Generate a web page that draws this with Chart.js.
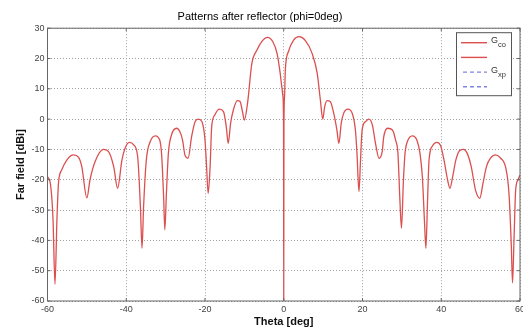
<!DOCTYPE html>
<html>
<head>
<meta charset="utf-8">
<script src="https://cdn.jsdelivr.net/npm/chart.js@4.4.0/dist/chart.umd.min.js"></script>
<style>
  html, body { margin: 0; padding: 0; background: #fff; }
  #wrap { width: 523px; height: 331px; }
</style>
</head>
<body>
<div id="wrap"><canvas id="pattern" width="523" height="331"></canvas></div>
<script>
// theta [deg] / co-polar gain [dBi]
const theta = [
  -60, -59.3, -58.6, -58.1, -57.6, -57.2, -56.4, -55.1, -53.4, -52.1, -51.3, -50.0,
  -49.2, -47.9, -45.8, -44.5, -43.2, -42.2, -41.1, -40.3, -39.2, -38.1, -37.1, -36.4,
  -36.0, -35.6, -34.9, -33.9, -32.6, -31.5, -31.0, -30.5, -30.2, -29.8, -29.3, -28.5,
  -27.2, -26.4, -25.7, -25.1, -24.3, -23.4, -22.5, -21.7, -20.8, -20.0, -19.6, -19.2,
  -18.7, -18.3, -17.5, -16.4, -15.3, -14.6, -14.1, -13.5, -12.8, -11.8, -11.1, -10.4,
  -10.0, -9.2, -8.1, -6.8, -5.6, -4.1, -2.8, -1.7, -0.9, -0.5, -0.2, -0.05,
  0, 0.05, 0.2, 0.4, 1.2, 2.5, 3.9, 5.5, 7.2, 8.5, 9.3, 9.9,
  10.4, 11.0, 11.8, 12.7, 13.5, 14.0, 14.6, 15.2, 16.3, 17.4, 18.2, 18.6,
  19.1, 19.5, 19.9, 20.8, 21.6, 22.5, 23.3, 24.2, 25.0, 25.4, 26.4, 27.6,
  28.4, 29.0, 29.5, 29.9, 30.4, 30.8, 31.4, 32.7, 33.8, 34.6, 35.2, 35.8,
  36.1, 36.5, 36.9, 37.8, 38.9, 39.9, 40.7, 41.6, 42.2, 42.9, 43.7, 44.8,
  45.7, 46.6, 47.6, 48.7, 49.8, 50.6, 51.5, 52.5, 53.8, 55.1, 56.4, 57.2,
  57.8, 58.1, 58.5, 58.9, 59.5, 60
];
const gainCo = [
  -19, -21, -33, -54.5, -33, -21, -16.8, -13.5, -11.8, -12.6, -15.6, -26,
  -20, -14, -10, -10.7, -15.6, -22.8, -13.5, -9.6, -7.7, -8.5, -12.4, -29,
  -42.6, -29, -13.5, -7.4, -5.5, -6.9, -12, -26, -36.5, -24.5, -11.3, -5.2,
  -3, -4.1, -6.9, -11.8, -12.9, -5.8, -0.8, 0, -0.8, -6.9, -15.6, -24.5,
  -15.6, -2.5, 1.4, 3.3, 2.5, -2.5, -8, -1.4, 3, 6.1, 5.8, 1.9,
  -0.3, 5.2, 18.4, 22.8, 25.6, 27, 25.6, 21.7, 15.1, 10.7, 7.4, -2.5,
  -60, -2.5, 7.4, 16.2, 22.3, 26.1, 27.2, 25.9, 21.7, 15.1, 6.3, 0,
  4.1, 6.1, 5.8, 1.9, -3.6, -8, -1.4, 1.9, 3.3, 1.9, -3.6, -11.3,
  -23.9, -13.5, -3.6, -0.8, 0, -1.9, -8, -12.9, -10.7, -5.8, -3, -3.6,
  -6.9, -11.3, -26.7, -36, -20, -11.3, -7.4, -5.5, -6.9, -11.3, -19, -35.5,
  -42.6, -27.8, -13.5, -8.8, -7.7, -9, -13.5, -20, -22.8, -19, -13.5, -10.2,
  -10, -11.3, -15.6, -23.4, -26.1, -21.2, -15.6, -12.9, -11.8, -12.9, -16.2, -24.5,
  -42, -54, -38.8, -23.4, -20, -18.4
];
// second co-pol trace and the cross-pol traces are not visible in the plotted range
const gainCo2 = [];
const gainXp = [];
const gainXp2 = [];

const seriesNames = ['G_co', '', 'G_xp', ''];
const xTicks = [-60, -40, -20, 0, 20, 40, 60];
const yTicks = [-60, -50, -40, -30, -20, -10, 0, 10, 20, 30];

const toPoints = (xs, ys) => ys.map((y, i) => ({ x: xs[i], y }));

const RED = '#dc4f4f';
const BLUE = '#8484e4';
const lineColors = [RED, RED, BLUE, BLUE];
const lineDashes = [[], [], [4, 3], [4, 3]];

// axes box with MATLAB style inward ticks
const frame = {
  id: 'frame',
  afterDraw(chart) {
    const { ctx, chartArea: a, scales } = chart;
    ctx.save();
    ctx.strokeStyle = '#666';
    ctx.lineWidth = 1;
    ctx.strokeRect(a.left, a.top, a.right - a.left, a.bottom - a.top);
    ctx.beginPath();
    scales.x.ticks.forEach(t => {
      const px = scales.x.getPixelForValue(t.value);
      ctx.moveTo(px, a.bottom); ctx.lineTo(px, a.bottom - 3);
      ctx.moveTo(px, a.top); ctx.lineTo(px, a.top + 3);
    });
    scales.y.ticks.forEach(t => {
      const py = scales.y.getPixelForValue(t.value);
      ctx.moveTo(a.left, py); ctx.lineTo(a.left + 3, py);
      ctx.moveTo(a.right, py); ctx.lineTo(a.right - 3, py);
    });
    ctx.stroke();
    ctx.restore();
  }
};

// boxed legend, names with subscripts
const boxLegend = {
  id: 'boxLegend',
  afterDraw(chart) {
    const ctx = chart.ctx;
    const a = chart.chartArea;
    const x0 = a.right - 64, y0 = a.top + 4, w = 55, h = 63;
    ctx.save();
    ctx.fillStyle = '#fff';
    ctx.fillRect(x0, y0, w, h);
    ctx.strokeStyle = '#555';
    ctx.lineWidth = 1;
    ctx.strokeRect(x0 + 0.5, y0 + 0.5, w, h);
    seriesNames.forEach((name, i) => {
      const y = y0 + 10.5 + i * 14.7;
      ctx.strokeStyle = lineColors[i];
      ctx.lineWidth = 1.4;
      ctx.setLineDash(lineDashes[i]);
      ctx.beginPath();
      ctx.moveTo(x0 + (lineDashes[i].length ? 7 : 5), y);
      ctx.lineTo(x0 + 31, y);
      ctx.stroke();
      ctx.setLineDash([]);
      const [main, sub] = name.split('_');
      if (main) {
        ctx.fillStyle = '#333';
        ctx.textBaseline = 'middle';
        ctx.font = '9px Arial, "Liberation Sans"';
        ctx.fillText(main, x0 + 35, y - 2);
        const mw = ctx.measureText(main).width;
        if (sub) {
          ctx.font = '7.5px Arial, "Liberation Sans"';
          ctx.fillText(sub, x0 + 35 + mw, y + 2.5);
        }
      }
    });
    ctx.restore();
  }
};

const tickFont = { family: 'Arial, "Liberation Sans"', size: 9 };
const titleFont = { family: 'Arial, "Liberation Sans"', size: 11, weight: 'bold' };

new Chart(document.getElementById('pattern'), {
  type: 'line',
  data: {
    datasets: [
      { label: seriesNames[0], data: toPoints(theta, gainCo), borderColor: RED, borderWidth: 1.3 },
      { label: seriesNames[1], data: gainCo2, borderColor: RED, borderWidth: 1.3 },
      { label: seriesNames[2], data: gainXp, borderColor: BLUE, borderWidth: 1.3, borderDash: [4, 3] },
      { label: seriesNames[3], data: gainXp2, borderColor: BLUE, borderWidth: 1.3, borderDash: [4, 3] }
    ]
  },
  options: {
    responsive: false,
    animation: false,
    devicePixelRatio: 1,
    layout: { padding: { top: 0, right: 3, bottom: 0, left: 0 } },
    elements: {
      point: { radius: 0 },
      line: { cubicInterpolationMode: 'monotone', fill: false }
    },
    plugins: {
      legend: { display: false },
      tooltip: { enabled: false },
      title: {
        display: true,
        text: 'Patterns after reflector (phi=0deg)',
        color: '#000',
        font: { family: 'Arial, "Liberation Sans"', size: 11, weight: 'normal' },
        padding: { top: 10, bottom: 5 }
      }
    },
    scales: {
      x: {
        type: 'linear',
        min: -60,
        max: 60,
        afterBuildTicks: s => { s.ticks = xTicks.map(v => ({ value: v })); },
        afterFit: s => { s.height = 30; s.paddingLeft = 0; s.paddingRight = 0; },
        ticks: { color: '#444', font: tickFont, padding: 3, maxRotation: 0 },
        grid: { color: '#a0a0a0', lineWidth: 1, drawTicks: false },
        border: { display: false, dash: [1, 2] },
        title: { display: true, text: 'Theta [deg]', color: '#111', font: titleFont, padding: { top: 0, bottom: 2 } }
      },
      y: {
        min: -60,
        max: 30,
        afterBuildTicks: s => { s.ticks = yTicks.map(v => ({ value: v })); },
        afterFit: s => { s.width = 47.5; s.paddingTop = 0; s.paddingBottom = 0; },
        ticks: { color: '#444', font: tickFont, padding: 3 },
        grid: { color: '#a0a0a0', lineWidth: 1, drawTicks: false },
        border: { display: false, dash: [1, 2] },
        title: { display: true, text: 'Far field [dBi]', color: '#111', font: titleFont, padding: { top: 14, bottom: 0 } }
      }
    }
  },
  plugins: [frame, boxLegend]
});
</script>
</body>
</html>
